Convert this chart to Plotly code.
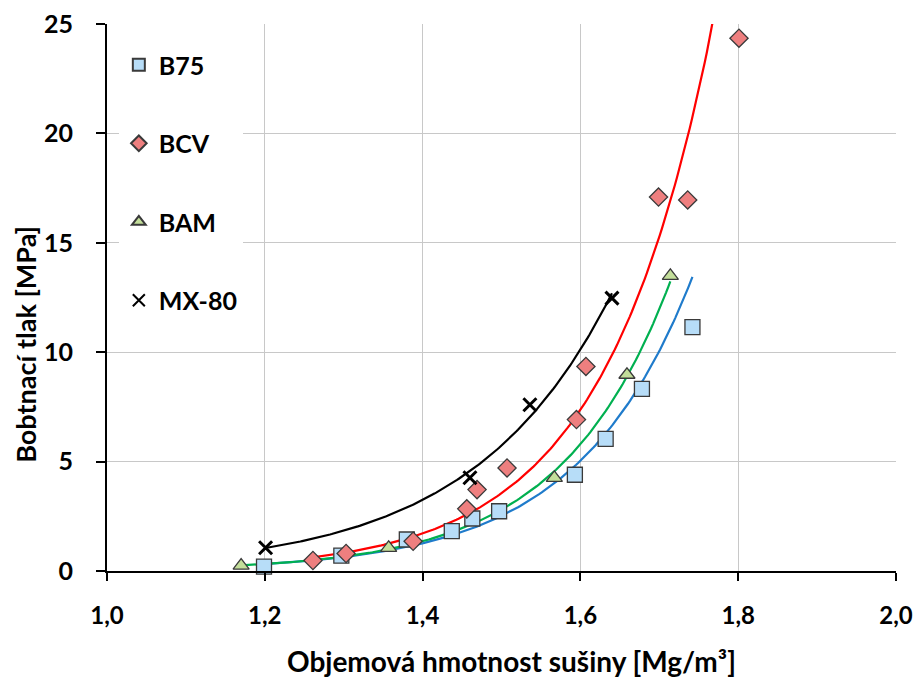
import numpy as np
import plotly.graph_objects as go

# --- data ---
b75_x = [1.199, 1.297, 1.380, 1.437, 1.463, 1.497, 1.593, 1.632, 1.678, 1.742]
b75_y = [0.20, 0.70, 1.44, 1.82, 2.40, 2.73, 4.40, 6.04, 8.32, 11.15]

bcv_x = [1.261, 1.303, 1.388, 1.456, 1.469, 1.507, 1.595, 1.607, 1.699, 1.736, 1.801]
bcv_y = [0.48, 0.80, 1.36, 2.84, 3.72, 4.71, 6.92, 9.35, 17.09, 16.96, 24.35]

bam_x = [1.170, 1.357, 1.567, 1.659, 1.714]
bam_y = [0.25, 1.06, 4.26, 8.97, 13.49]

mx_x = [1.201, 1.460, 1.536, 1.640]
mx_y = [1.06, 4.26, 7.60, 12.47]

x_ticks = [1.0, 1.2, 1.4, 1.6, 1.8, 2.0]
y_ticks = [0, 5, 10, 15, 20, 25]

FONT = "Lato"

series = [
    ("B75", b75_x, b75_y, "square", "#B7DDF8", "#1F7BCB"),
    ("BCV", bcv_x, bcv_y, "diamond", "#EE7F7F", "#FF0000"),
    ("BAM", bam_x, bam_y, "triangle-up", "#C3DE9A", "#00B050"),
    ("MX-80", mx_x, mx_y, "x-thin", "#000000", "#000000"),
]

fig = go.Figure()

# exponential trendlines (least squares on ln y, like a spreadsheet trendline)
for name, xs, ys, sym, fill, lcol in series:
    b, lna = np.polyfit(np.array(xs), np.log(np.array(ys)), 1)
    xx = np.linspace(min(xs), max(xs), 200)
    fig.add_trace(go.Scatter(x=xx, y=np.exp(lna + b * xx), mode="lines",
                             line=dict(color=lcol, width=2.2),
                             showlegend=False, hoverinfo="skip"))

for i, (name, xs, ys, sym, fill, lcol) in enumerate(series):
    if sym == "x-thin":
        marker = dict(symbol="x-thin", size=13, line=dict(color="#000000", width=3))
    else:
        sz = {"square": 15, "diamond": 14, "triangle-up": 14}[sym]
        marker = dict(symbol=sym, size=sz, color=fill,
                      line=dict(color="#3a3a3a", width=1.3))
    fig.add_trace(go.Scatter(x=xs, y=ys, mode="markers", name=name,
                             marker=marker, legendgroup=name, cliponaxis=False))

fig.update_layout(
    width=916, height=677,
    margin=dict(l=107, r=20, t=24, b=106, autoexpand=False),
    paper_bgcolor="white", plot_bgcolor="white",
    separators=", ",
    font=dict(family=FONT, size=20, color="#000000"),
    showlegend=True,
    legend=dict(x=0.015, y=0.967, xanchor="left", yanchor="top",
                bgcolor="white", borderwidth=0,
                font=dict(family=FONT, size=25, color="#000000", weight="bold"),
                tracegroupgap=43, traceorder="grouped",
                itemsizing="constant"),
    xaxis=dict(range=[1.0, 2.0], tickvals=x_ticks, tickformat=".1f",
               automargin=False,
               showgrid=True, gridcolor="#C8C8C8", gridwidth=1,
               showline=True, linecolor="#000000", linewidth=2,
               ticks="outside", ticklen=8, tickwidth=2, tickcolor="#000000",
               tickfont=dict(family=FONT, size=24, weight="bold"),
               ticklabelstandoff=14, zeroline=False),
    yaxis=dict(range=[0, 25], tickvals=y_ticks,
               automargin=False,
               showgrid=True, gridcolor="#C8C8C8", gridwidth=1,
               showline=True, linecolor="#000000", linewidth=2,
               ticks="outside", ticklen=9, tickwidth=2, tickcolor="#000000",
               tickfont=dict(family=FONT, size=25, weight="bold"),
               ticklabelstandoff=18, zeroline=False),
)

fig.add_annotation(text="Bobtnací tlak [MPa]", textangle=-90,
                   xref="paper", yref="paper", x=-0.103, y=0.415,
                   xanchor="center", yanchor="middle", showarrow=False,
                   font=dict(family=FONT, size=27, weight="bold"))

fig.add_annotation(text="Objemová hmotnost sušiny [Mg/m³]",
                   xref="paper", yref="paper", x=0.513, y=-0.165,
                   xanchor="center", yanchor="middle", showarrow=False,
                   font=dict(family=FONT, size=28, weight="bold"))

# remove the browser's default page margin so the figure sits at the corner
fig.write_html("out.html", config={"displayModeBar": False},
               post_script="document.body.style.margin='0px';")
